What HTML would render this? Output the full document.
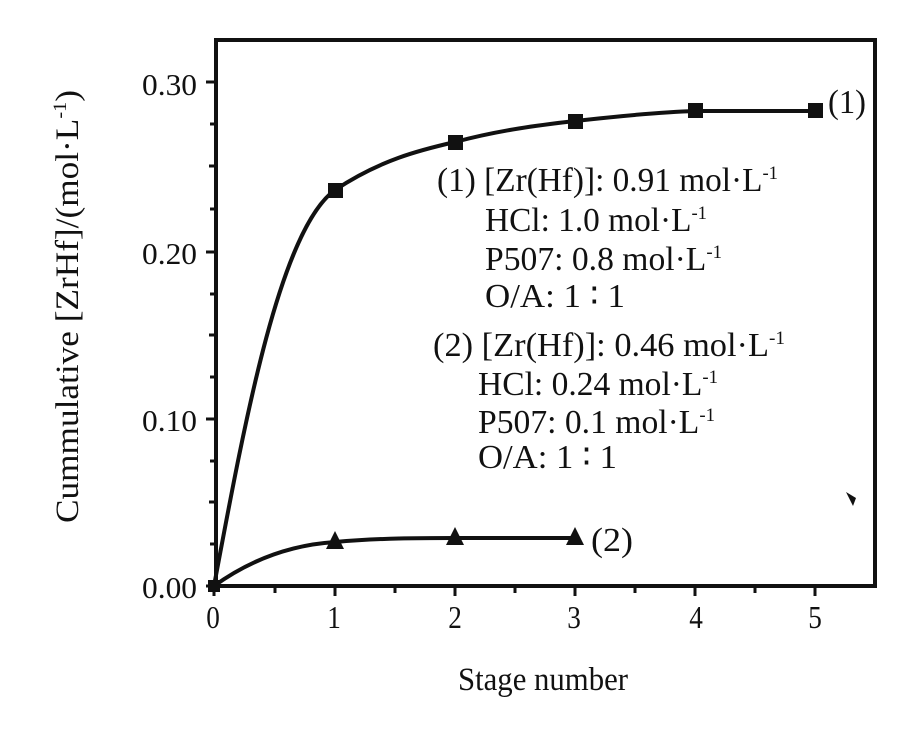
<!DOCTYPE html>
<html><head><style>body{margin:0;background:#fff}svg{display:block}text{font-family:"Liberation Serif",serif;fill:#111}</style></head><body>
<svg width="903" height="731" viewBox="0 0 903 731">
<g stroke="#111" stroke-width="4" fill="none">
<rect x="216" y="40" width="659" height="546"/>
</g>
<g stroke="#111" stroke-width="3">
<line x1="206" y1="586" x2="216" y2="586"/><line x1="206" y1="419" x2="216" y2="419"/><line x1="206" y1="252" x2="216" y2="252"/><line x1="206" y1="82" x2="216" y2="82"/>
<line x1="210" y1="544" x2="216" y2="544"/><line x1="209" y1="502" x2="216" y2="502"/><line x1="210" y1="461" x2="216" y2="461"/>
<line x1="210" y1="377" x2="216" y2="377"/><line x1="209" y1="335" x2="216" y2="335"/><line x1="210" y1="294" x2="216" y2="294"/>
<line x1="210" y1="209" x2="216" y2="209"/><line x1="209" y1="166" x2="216" y2="166"/><line x1="210" y1="124" x2="216" y2="124"/>
<line x1="214" y1="586" x2="214" y2="596"/><line x1="335" y1="586" x2="335" y2="596"/><line x1="455" y1="586" x2="455" y2="596"/><line x1="575" y1="586" x2="575" y2="596"/><line x1="695" y1="586" x2="695" y2="596"/><line x1="815" y1="586" x2="815" y2="596"/>
<line x1="275" y1="586" x2="275" y2="593"/><line x1="395" y1="586" x2="395" y2="593"/><line x1="515" y1="586" x2="515" y2="593"/><line x1="635" y1="586" x2="635" y2="593"/><line x1="755" y1="586" x2="755" y2="593"/>
</g>
<g font-size="31">
<text x="142" y="598" textLength="55" lengthAdjust="spacingAndGlyphs">0.00</text><text x="142" y="431" textLength="55" lengthAdjust="spacingAndGlyphs">0.10</text><text x="142" y="264" textLength="55" lengthAdjust="spacingAndGlyphs">0.20</text><text x="142" y="95" textLength="55" lengthAdjust="spacingAndGlyphs">0.30</text>
</g>
<g font-size="32" text-anchor="middle">
<text x="213" y="628" transform="translate(213,0) scale(0.85,1) translate(-213,0)">0</text>
<text x="334" y="628" transform="translate(334,0) scale(0.85,1) translate(-334,0)">1</text>
<text x="455" y="628" transform="translate(455,0) scale(0.85,1) translate(-455,0)">2</text>
<text x="574" y="628" transform="translate(574,0) scale(0.85,1) translate(-574,0)">3</text>
<text x="696" y="628" transform="translate(696,0) scale(0.85,1) translate(-696,0)">4</text>
<text x="815" y="628" transform="translate(815,0) scale(0.85,1) translate(-815,0)">5</text>
</g>
<text x="458" y="690" font-size="33" textLength="170" lengthAdjust="spacingAndGlyphs">Stage number</text>
<text transform="translate(78,523) rotate(-90)" font-size="33" textLength="433" lengthAdjust="spacingAndGlyphs">Cummulative [ZrHf]/(mol·L<tspan font-size="19" dy="-12">-1</tspan><tspan dy="12">)</tspan></text>
<g stroke="#111" stroke-width="4" fill="none">
<path d="M214,586 C245,420 280,230 335,190 C380,160 420,150 455,142 C500,130 540,125 575,121 C620,116 660,112 695,111 L815,111"/>
<path d="M214,586 C250,560 290,545 335,542 C380,538 420,538 455,538 L575,538"/>
</g>
<g fill="#111">
<rect x="328" y="183" width="15" height="15"/><rect x="448" y="135" width="15" height="15"/><rect x="568" y="114" width="15" height="15"/><rect x="688" y="103" width="15" height="15"/><rect x="808" y="103" width="15" height="15"/>
<rect x="208" y="580" width="12" height="12"/>
<polygon points="335,531 326,549 344,549"/><polygon points="455,527 446,545 464,545"/><polygon points="575,527 566,545 584,545"/>
<polygon points="846,492 856,498 853,506"/>
</g>
<g font-size="34">
<text x="828" y="113" textLength="38" lengthAdjust="spacingAndGlyphs">(1)</text><text x="591" y="551" textLength="42" lengthAdjust="spacingAndGlyphs">(2)</text>
<text x="437" y="191" textLength="341" lengthAdjust="spacingAndGlyphs">(1) [Zr(Hf)]: 0.91 mol·L<tspan font-size="19" dy="-12">-1</tspan></text>
<text x="485" y="231" textLength="222" lengthAdjust="spacingAndGlyphs">HCl: 1.0 mol·L<tspan font-size="19" dy="-12">-1</tspan></text>
<text x="485" y="270" textLength="237" lengthAdjust="spacingAndGlyphs">P507: 0.8 mol·L<tspan font-size="19" dy="-12">-1</tspan></text>
<text x="485" y="307" textLength="140" lengthAdjust="spacingAndGlyphs">O/A: 1 ∶ 1</text>
<text x="433" y="356" textLength="352" lengthAdjust="spacingAndGlyphs">(2) [Zr(Hf)]: 0.46 mol·L<tspan font-size="19" dy="-12">-1</tspan></text>
<text x="478" y="395" textLength="240" lengthAdjust="spacingAndGlyphs">HCl: 0.24 mol·L<tspan font-size="19" dy="-12">-1</tspan></text>
<text x="478" y="433" textLength="237" lengthAdjust="spacingAndGlyphs">P507: 0.1 mol·L<tspan font-size="19" dy="-12">-1</tspan></text>
<text x="478" y="468" textLength="139" lengthAdjust="spacingAndGlyphs">O/A: 1 ∶ 1</text>
</g>
</svg>
</body></html>
